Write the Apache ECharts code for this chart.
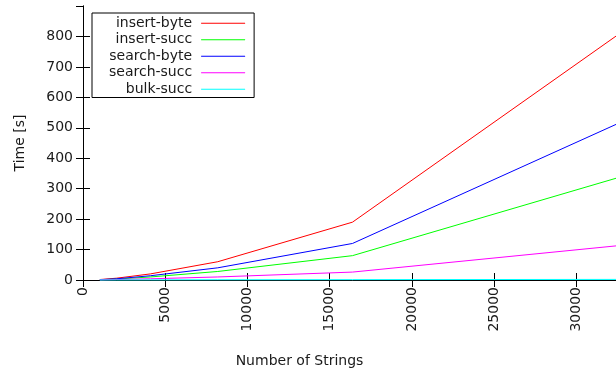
<!DOCTYPE html>
<html>
<head>
<meta charset="utf-8">
<script src="https://cdn.jsdelivr.net/npm/echarts@6/dist/echarts.min.js"></script>
<style>
  html, body { margin: 0; padding: 0; overflow: hidden; background: #fff; }
  /* the plot frame runs a few pixels past the right edge of the window */
  #chart { width: 640px; height: 373px; }
</style>
</head>
<body>
<div id="chart"></div>
<script>
// Number of strings per run
const strings = [1024, 2048, 4096, 8192, 16384, 32768];

// Timings in seconds
const insertByte = [1.5, 6, 20, 60, 190, 815];
const insertSucc = [0.8, 3, 10, 28, 80, 340];
const searchByte = [1, 4, 14, 40, 120, 520];
const searchSucc = [0.5, 1.5, 4, 10, 26, 114];
const bulkSucc = [0.1, 0.2, 0.4, 0.8, 1.2, 2];

const seriesNames = ['insert-byte', 'insert-succ', 'search-byte', 'search-succ', 'bulk-succ'];
const seriesValues = [insertByte, insertSucc, searchByte, searchSucc, bulkSucc];
const seriesColors = ['#ff0000', '#00ff00', '#0000ff', '#ff00ff', '#00ffff'];

const FONT = 'DejaVu Sans';
const plain = v => String(v);
const tickText = { fontFamily: FONT, fontSize: 14, color: '#1a1a1a', formatter: plain };

function mirrorAxisBase() {
  return {
    axisLine: { show: true, lineStyle: { color: '#000', width: 1 } },
    axisTick: { show: true, inside: true, length: 7, lineStyle: { color: '#000', width: 1 } },
    splitLine: { show: false }
  };
}

const chart = echarts.init(document.getElementById('chart'), null, { renderer: 'canvas' });

chart.setOption({
  animation: false,
  backgroundColor: '#fff',
  grid: { left: 83, top: 6, right: 18, bottom: 90, containLabel: false },
  legend: {
    orient: 'vertical',
    left: 92,
    top: 13,
    align: 'right',
    itemWidth: 44,
    itemHeight: 8,
    itemGap: 0,
    padding: [2, 9, 0, 17],
    borderColor: '#000',
    borderWidth: 1,
    backgroundColor: '#fff',
    icon: 'path://M0,0L44,0L44,1L0,1Z',
    textStyle: { fontFamily: FONT, fontSize: 14, color: '#1a1a1a', lineHeight: 16.5, padding: [0, 4, 0, 0] },
    data: seriesNames
  },
  xAxis: [
    Object.assign(mirrorAxisBase(), {
      type: 'value',
      position: 'bottom',
      z: 3,
      min: 0,
      max: 32768,
      interval: 5000,
      name: 'Number of Strings',
      nameLocation: 'middle',
      nameGap: 74,
      nameTextStyle: { fontFamily: FONT, fontSize: 14, color: '#1a1a1a', padding: [0, 106, 0, 0] },
      axisLine: { show: true, lineStyle: { color: 'rgba(0,0,0,0.65)', width: 1 } },
      axisLabel: Object.assign({ rotate: 90, margin: 7, showMaxLabel: false }, tickText)
    }),
    Object.assign(mirrorAxisBase(), {
      type: 'value',
      position: 'top',
      min: 0,
      max: 32768,
      interval: 5000,
      axisLabel: { show: false }
    })
  ],
  yAxis: [
    Object.assign(mirrorAxisBase(), {
      type: 'value',
      position: 'left',
      min: 0,
      max: 900,
      interval: 100,
      name: 'Time [s]',
      nameLocation: 'middle',
      nameRotate: 90,
      nameGap: 56,
      nameTextStyle: { fontFamily: FONT, fontSize: 14, color: '#1a1a1a' },
      axisLabel: Object.assign({ margin: 10, showMaxLabel: false }, tickText)
    }),
    Object.assign(mirrorAxisBase(), {
      type: 'value',
      position: 'right',
      min: 0,
      max: 900,
      interval: 100,
      axisLabel: { show: false }
    })
  ],
  series: seriesNames.map((name, i) => ({
    name: name,
    type: 'line',
    xAxisIndex: 0,
    yAxisIndex: 0,
    showSymbol: false,
    symbol: 'none',
    clip: false,
    color: seriesColors[i],
    lineStyle: { color: seriesColors[i], width: 1 },
    data: strings.map((x, j) => [x, seriesValues[i][j]])
  }))
});
</script>
</body>
</html>
